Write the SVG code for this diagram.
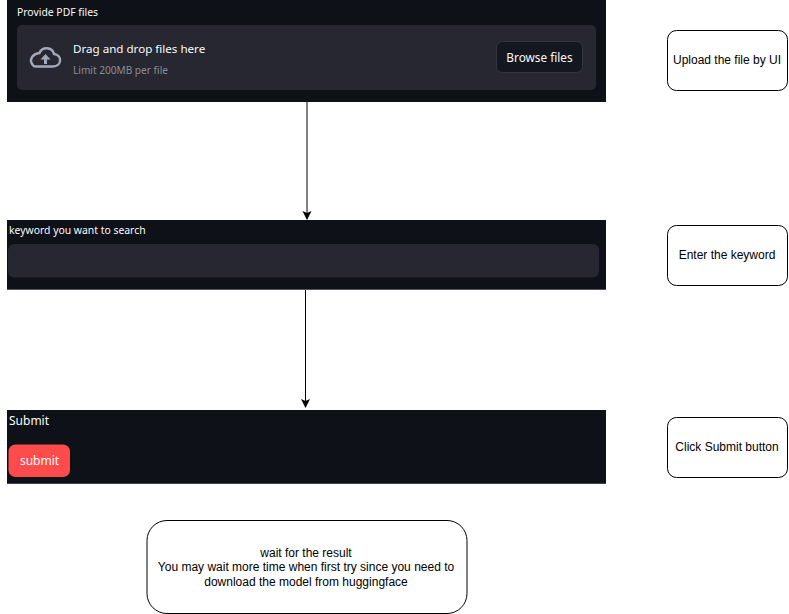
<svg xmlns="http://www.w3.org/2000/svg" width="789" height="614" viewBox="0 0 789 614">
<style>
.panel{fill:#0e1117}
.field{fill:#262730}
.note{fill:#fff;stroke:#000;stroke-width:1}
.nt{font-family:"Liberation Sans",Arial,sans-serif;font-size:12px;fill:#000;text-anchor:middle}
.ui{font-family:"Noto Sans","Open Sans",sans-serif;fill:#fafafa}
.conn{stroke:#000;stroke-width:1;fill:none;marker-end:url(#arr)}
</style>
<defs><marker id="arr" markerUnits="userSpaceOnUse" markerWidth="10" markerHeight="10" refX="8" refY="4.5" orient="auto"><path d="M0 0L9 4.5L0 9L2 4.5Z" fill="#000"/></marker></defs>
<rect width="789" height="614" fill="#fff"/>
<g id="upload-panel">
<rect class="panel" x="7" y="0" width="599" height="102"/>
<text class="ui" x="17" y="16" font-size="10.4">Provide PDF files</text>
<rect class="field" x="17" y="25" width="579" height="65" rx="5"/>
<path d="M36 66.500H53C62 66.500 62.500 55 54 54C52 46.500 42 46.500 39.500 53C33 53.500 29.500 59 31.500 63C32.500 65.500 34 66.500 36 66.500Z" fill="none" stroke="#a3a8b8" stroke-width="2.4"/>
<path d="M44 64V59.500H40.500L45.500 54L50.500 59.500H47V64Z" fill="#a3a8b8"/>
<text class="ui" x="73" y="53" font-size="11.600">Drag and drop files here</text>
<text class="ui" x="73" y="74" font-size="10.100" style="fill:#8a8d96">Limit 200MB per file</text>
<rect x="496.500" y="41.500" width="86" height="31" rx="6" fill="#14171f" stroke="#33353e"/>
<text class="ui" x="539.500" y="62" font-size="11.800" text-anchor="middle">Browse files</text>
</g>
<g id="upload-note"><rect class="note" x="667.500" y="30.500" width="120" height="60" rx="9"/><text class="nt" x="727" y="64">Upload the file by UI</text></g>
<g id="keyword-panel">
<rect class="panel" x="7" y="220" width="599" height="69"/>
<rect x="7" y="289" width="599" height="1" fill="#555"/>
<text class="ui" x="9" y="234" font-size="10.400">keyword you want to search</text>
<rect class="field" x="8" y="244" width="591" height="33.500" rx="6"/>
</g>
<g id="keyword-note"><rect class="note" x="667.500" y="225.500" width="120" height="60" rx="9"/><text class="nt" x="727" y="259">Enter the keyword</text></g>
<g id="submit-panel">
<rect class="panel" x="7" y="410" width="599" height="73"/>
<rect x="7" y="483" width="599" height="1" fill="#444"/>
<text class="ui" x="9" y="425" font-size="12">Submit</text>
<rect x="8.500" y="444.500" width="61.500" height="32.500" rx="7" fill="#ff4b4b"/>
<text class="ui" x="39.500" y="465" font-size="12" text-anchor="middle" style="fill:#fff">submit</text>
</g>
<g id="submit-note"><rect class="note" x="667.500" y="417.500" width="120" height="60" rx="9"/><text class="nt" x="727" y="451">Click Submit button</text></g>
<g id="result-note"><rect class="note" x="147" y="520.500" width="320" height="93" rx="20"/>
<text class="nt" x="306" y="557">wait for the result</text>
<text class="nt" x="306" y="571">You may wait more time when first try since you need to</text>
<text class="nt" x="306" y="586">download the model from huggingface</text></g>
<g id="connectors">
<path class="conn" d="M307 102V219"/>
<path class="conn" d="M305.500 290V407"/>
</g>
</svg>
